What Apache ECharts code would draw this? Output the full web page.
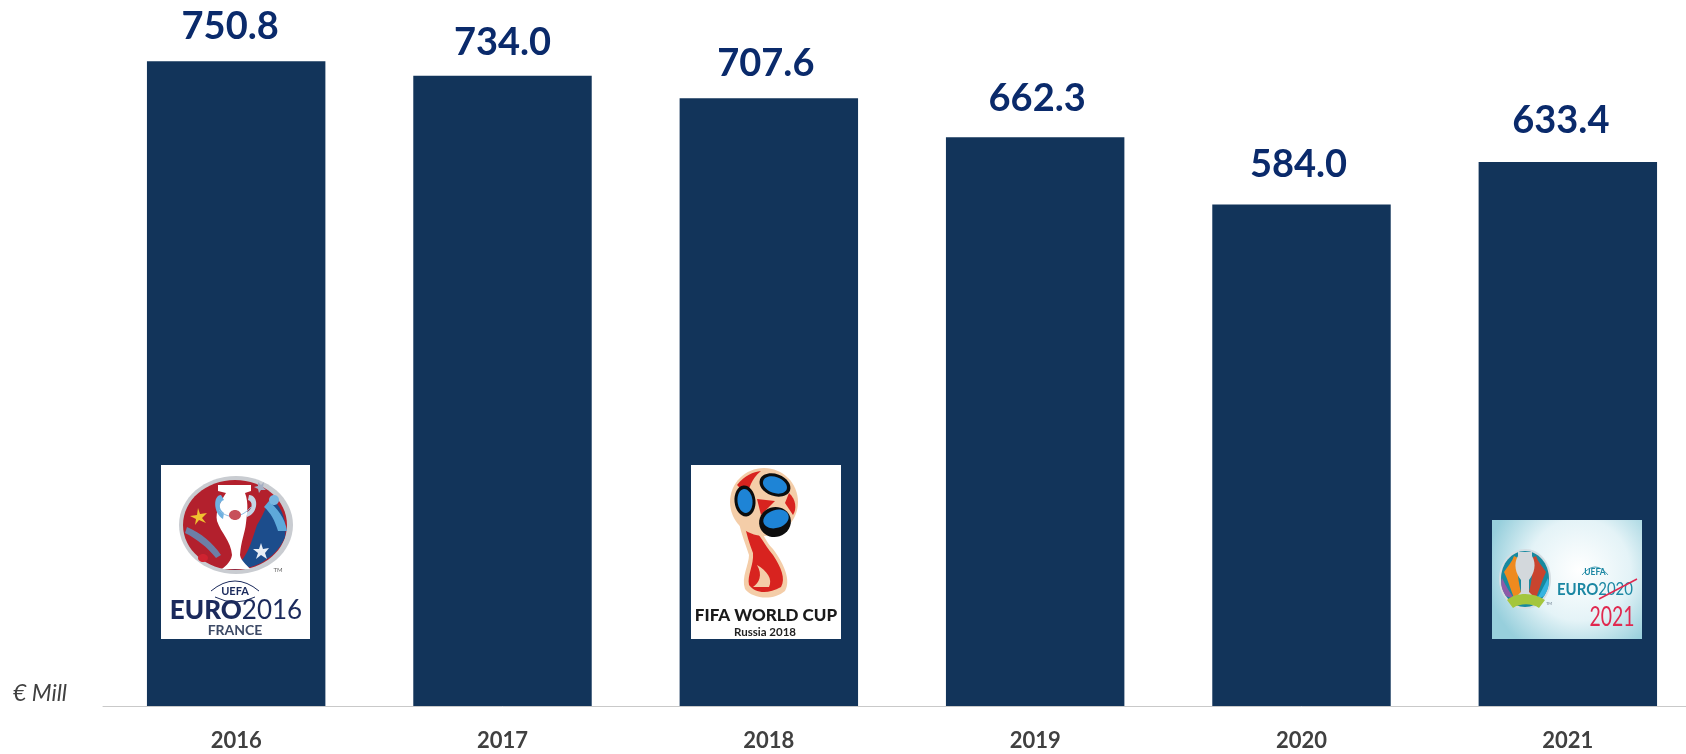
<!DOCTYPE html>
<html>
<head>
<meta charset="utf-8">
<style>html,body{margin:0;padding:0;background:#fff;width:1686px;height:754px;overflow:hidden}#chart{width:1720px;height:754px}</style>
<script src="https://cdn.jsdelivr.net/npm/echarts@6/dist/echarts.min.js"></script>
</head>
<body>
<div id="chart"></div>
<script>
const years = ['2016', '2017', '2018', '2019', '2020', '2021'];
const revenue = [750.8, 734.0, 707.6, 662.3, 584.0, 633.4];
// Hand placement of each value label relative to its default spot above the bar
const labelNudge = [[-6, 0], [0, 2], [-3, 0], [2, -3], [-3, -5], [-7, -6]];

const FONT = 'Lato, "Open Sans", sans-serif';
const NAVY = '#1b2a5c';

// Small shape helpers for the tournament emblems
const path = (d, fill, extra) => ({ type: 'path', shape: { pathData: d }, style: Object.assign({ fill }, extra || {}) });
const oval = (cx, cy, rx, ry, fill, rot) => ({
  type: 'ellipse', x: cx, y: cy, rotation: rot || 0,
  shape: { cx: 0, cy: 0, rx, ry }, style: { fill }
});
const label = (x, y, text, size, fill, weight, extra, scaleX) => ({
  type: 'text', x, y, scaleX: scaleX || 1,
  style: Object.assign({ text, fontFamily: FONT, fontSize: size, fontWeight: weight || 'normal', fill, align: 'center', verticalAlign: 'middle' }, extra || {})
});
const backing = (w, h, fill) => ({ type: 'rect', shape: { x: 0, y: 0, width: w, height: h }, style: { fill } });

const euro2016 = {
  type: 'group', x: 161, y: 465,
  children: [
    backing(149, 174, '#ffffff'),
    oval(75, 60, 57, 49, '#c9ccd1'),
    oval(74, 60, 52, 45, '#b3202d'),
    path('M70 104 C86 96 90 78 96 60 C104 48 106 36 112 34 C122 44 126 58 124 72 C116 92 94 106 70 104 Z', '#1c4d8c'),
    path('M108 36 C116 44 124 52 126 66 L117 66 C114 56 110 48 103 42 Z', '#5ea9da'),
    path('M26 62 C40 68 52 78 60 90 L55 93 C46 82 36 74 24 68 Z', '#6d7fa6'),
    oval(113, 35, 5, 5, '#79b6e0'),
    oval(42, 93, 5, 4, '#cf2330'),
    path('M57 20 L90 20 L90 26 L84 28 C88 38 86 50 85 58 C84 68 80 76 79 90 C80 96 86 100 89 104 L61 104 C66 100 70 96 71 90 C70 76 60 68 56 56 C54 46 60 36 65 28 L57 26 Z', '#ffffff'),
    path('M60 30 C52 30 52 48 62 54 L63 48 C57 44 58 36 63 35 Z', '#6fb1e0'),
    path('M88 30 C98 30 98 48 86 52 L86 47 C92 44 92 36 87 35 Z', '#c4d6e6'),
    path('M58 45 C66 54 80 54 90 42', 'none', { stroke: '#8fc0e4', lineWidth: 1 }),
    oval(74, 50, 6, 5, '#c7505a'),
    path('M37 43 L39 49 L46 48 L41 53 L45 58 L38 55 L34 60 L35 54 L29 51 L36 50 Z', '#f0c330'),
    path('M100 78 L102 84 L108 83 L104 88 L106 94 L100 90 L95 94 L97 88 L92 84 L98 84 Z', '#e8eef5'),
    path('M97 17 L100 20 L103 17 L102 22 L105 25 L100 25 L98 28 L97 24 L93 22 L97 21 Z', '#a5afc4'),
    label(117, 105, 'TM', 6, '#666666'),
    path('M50 126 Q74 106 98 126', 'none', { stroke: NAVY, lineWidth: 1 }),
    path('M54 132 Q74 142 94 132', 'none', { stroke: NAVY, lineWidth: 1 }),
    label(74, 126, 'UEFA', 11, NAVY, 'bold'),
    {
      type: 'text', x: 75, y: 146,
      style: {
        text: '{a|EURO}{b|2016}', align: 'center', verticalAlign: 'middle',
        rich: {
          a: { fontFamily: FONT, fontSize: 26, fontWeight: 900, fill: NAVY },
          b: { fontFamily: FONT, fontSize: 26, fontWeight: 'normal', fill: NAVY }
        }
      }
    },
    label(74, 165, 'FRANCE', 14, '#3d4a66', 'bold')
  ]
};

const worldCup2018 = {
  type: 'group', x: 691, y: 465,
  children: [
    backing(150, 174, '#ffffff'),
    path('M56 54 C72 62 72 74 82 84 C94 100 100 116 94 126 C82 136 62 134 54 124 C50 112 58 100 58 90 C54 78 50 68 48 58 Z', '#f4cda8'),
    path('M60 62 C70 70 72 78 82 90 C90 102 95 114 90 122 C76 130 64 128 58 120 C56 110 63 100 62 88 C58 78 56 70 54 62 Z', '#d8231f'),
    path('M66 100 C72 110 68 118 62 122 L78 122 C82 114 76 106 66 100 Z', '#f4cda8'),
    oval(73, 37, 34, 34, '#f4cda8'),
    path('M46 20 C54 10 62 7 70 6 C60 14 58 24 56 30 Z', '#d8231f'),
    path('M66 34 L84 36 L70 50 Z', '#d8231f'),
    path('M98 28 C105 34 106 44 102 50 L94 38 Z', '#d8231f'),
    oval(84, 20, 16, 11, '#0d0d0d', -0.35),
    oval(84, 20, 12.5, 8, '#1e84d6', -0.35),
    oval(54, 36, 10.5, 15.5, '#0d0d0d', 0.1),
    oval(54, 36, 7.5, 12, '#1e84d6', 0.1),
    oval(84, 57, 16, 15, '#0d0d0d', 0.3),
    oval(85, 54, 13, 9, '#1e84d6', 0.3),
    label(75, 151, 'FIFA WORLD CUP', 17, '#1a1a1a', 900),
    label(74, 167, 'Russia 2018', 11.5, '#222222', 'bold')
  ]
};

const euro2020 = {
  type: 'group', x: 1492, y: 520,
  children: [
    {
      type: 'rect', shape: { x: 0, y: 0, width: 150, height: 119 },
      style: {
        fill: {
          type: 'radial', x: 0.58, y: 0.42, r: 0.78,
          colorStops: [{ offset: 0, color: '#ffffff' }, { offset: 0.55, color: '#e4f3f7' }, { offset: 1, color: '#97cfdc' }]
        }
      }
    },
    oval(33, 59, 26, 30, '#d5dde2'),
    oval(33, 59, 24, 28, '#17899f'),
    path('M12 52 C16 46 20 42 22 36 L26 38 C25 50 26 62 30 76 L22 78 C18 68 16 60 12 52 Z', '#ee8a1f'),
    path('M54 52 C50 46 46 42 44 36 L40 38 C41 50 40 62 36 76 L44 78 C48 68 50 60 54 52 Z', '#c8442e'),
    path('M10 58 C14 66 18 74 24 80 L14 76 C10 70 8 64 10 58 Z', '#8e5aa8'),
    path('M56 58 C52 66 48 74 44 80 L52 76 C56 70 58 64 56 58 Z', '#35b4e0'),
    path('M26 32 L40 32 L40 36 C45 44 42 54 37 60 L37 72 L41 76 L25 76 L29 72 L29 60 C24 54 21 44 26 36 Z', '#d3d8dc'),
    path('M15 80 C24 72 42 72 53 80 L47 88 C40 83 28 83 21 88 Z', '#a4c63c'),
    label(57, 84, 'TM', 4, '#667788'),
    path('M90 55 Q103 39 116 55', 'none', { stroke: '#1b87a3', lineWidth: 0.8 }),
    label(103, 52, 'UEFA', 8.5, '#1b87a3', 'bold'),
    {
      type: 'text', x: 65, y: 70, scaleX: 0.88,
      style: {
        text: '{a|EURO}{b|2020}', align: 'left', verticalAlign: 'middle',
        rich: {
          a: { fontFamily: FONT, fontSize: 17, fontWeight: 'bold', fill: '#1b87a3' },
          b: { fontFamily: FONT, fontSize: 17, fontWeight: 'normal', fill: '#1b87a3' }
        }
      }
    },
    { type: 'line', shape: { x1: 107, y1: 79, x2: 145, y2: 59 }, style: { stroke: '#e0284f', lineWidth: 1.5 } },
    label(120, 97, '2021', 27, '#e0284f', 'normal', null, 0.72)
  ]
};

const chart = echarts.init(document.getElementById('chart'), null, { renderer: 'canvas' });
chart.setOption({
  animation: false,
  backgroundColor: '#ffffff',
  textStyle: { fontFamily: FONT },
  grid: { left: 103, width: 1598, top: 19, bottom: 48 },
  xAxis: {
    type: 'category',
    data: years,
    axisLine: { lineStyle: { color: '#c9c9c9', width: 1 } },
    axisTick: { show: false },
    axisLabel: { color: '#404040', fontFamily: FONT, fontSize: 22, fontWeight: 'bold', margin: 24 }
  },
  yAxis: { type: 'value', min: 0, max: 800, show: false, splitLine: { show: false } },
  series: [{
    type: 'bar',
    data: revenue.map((value, i) => ({ value, label: { offset: labelNudge[i] } })),
    barCategoryGap: '33%',
    itemStyle: { color: '#12345a' },
    label: {
      show: true,
      position: 'top',
      distance: 16,
      color: '#0a2a6b',
      fontFamily: FONT,
      fontSize: 38,
      fontWeight: 'bold',
      formatter: p => p.value.toFixed(1)
    }
  }, {
    // Tournament emblems laid over the bars of the tournament years
    type: 'custom',
    coordinateSystem: 'none',
    silent: true,
    z: 5,
    data: [0],
    renderItem: () => ({ type: 'group', children: [euro2016, worldCup2018, euro2020] })
  }],
  graphic: [
    { type: 'text', left: 13, top: 682, style: { text: '€ Mill', fontFamily: FONT, fontSize: 23, fontStyle: 'italic', fill: '#404040' } }
  ]
});
</script>
</body>
</html>
